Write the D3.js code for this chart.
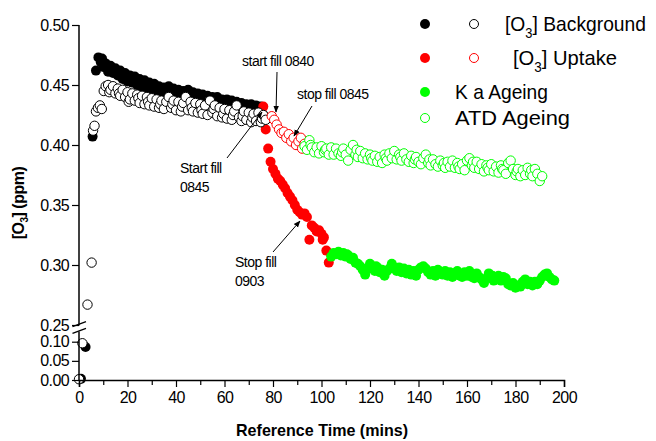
<!DOCTYPE html>
<html>
<head>
<meta charset="utf-8">
<script src="https://cdn.jsdelivr.net/npm/d3@7"></script>
<style>
  html, body { margin: 0; padding: 0; background: #fff; }
  svg { display: block; }
  text { font-family: "Liberation Sans", Arial, sans-serif; fill: #000; }
</style>
</head>
<body>
<svg id="chart" width="656" height="441"></svg>
<script>
// ---- data: [time (mins), [O3] (ppm)] ----
const backgroundFilled = [
  [0.8,0.003],[2.7,0.086],[5.6,0.407],[7,0.462],[8,0.473],[9,0.469],[9.5,0.472],[10,0.465],[11,0.468],
  [12,0.461],[13,0.466],[14,0.460],[14.5,0.463],[15,0.464],[16,0.458],[17,0.462],[18,0.455],[19,0.460],
  [19.5,0.457],[20,0.453],[21,0.458],[22,0.452],[23,0.457],[24,0.450],[25,0.455],[25.5,0.451],[26,0.448],
  [27,0.454],[28,0.447],[29,0.452],[30,0.445],[31,0.451],[31.5,0.448],[32,0.444],[33,0.449],[34,0.443],
  [35,0.448],[36,0.442],[37,0.449],[38,0.441],[38.5,0.444],[39,0.447],[40,0.440],[41,0.446],[42,0.439],
  [43,0.445],[44,0.438],[44.5,0.442],[45,0.446],[46,0.437],[47,0.444],[48,0.436],[49,0.443],[50,0.435],
  [51,0.442],[52,0.435],[52.5,0.438],[53,0.441],[54,0.434],[55,0.440],[56,0.433],[57,0.440],[58,0.432],
  [58.5,0.435],[59,0.438],[60,0.431],[61,0.438],[62,0.430],[63,0.437],[64,0.429],[64.5,0.433],[65,0.436],
  [66,0.428],[67,0.435],[68,0.428],[69,0.434],[70,0.427],[70.5,0.431],[71,0.434],[72,0.426],[73,0.433],
  [74,0.426],[75,0.432],[76,0.425]
];
const backgroundOpen = [
  [0,0.002],[1.4,0.096],[3.5,0.267],[5.2,0.302],[5.8,0.412],[6.4,0.416],[7,0.428],[7.8,0.431],
  [8.6,0.433],[9.4,0.430],[10.2,0.445],[11,0.449],[12,0.450],[12.5,0.444],[13,0.446],[14,0.449],
  [15,0.443],[16,0.447],[16.5,0.443],[17,0.441],[18,0.446],[19,0.440],[20,0.444],[20.5,0.436],
  [21,0.438],[22,0.443],[23,0.437],[24,0.442],[24.5,0.439],[25,0.435],[26,0.441],[27,0.434],
  [28,0.440],[28.5,0.436],[29,0.433],[30,0.439],[31,0.432],[32,0.438],[33,0.431],[33.5,0.434],
  [34,0.437],[35,0.430],[36,0.436],[37,0.440],[38,0.431],[38.5,0.434],[39,0.437],[40,0.429],
  [41,0.436],[42,0.428],[42.5,0.432],[43,0.435],[44,0.440],[45,0.429],[46,0.436],[46.5,0.431],
  [47,0.428],[48,0.435],[49,0.427],[50,0.434],[50.5,0.429],[51,0.426],[52,0.433],[53,0.425],
  [54,0.437],[55,0.427],[55.5,0.430],[56,0.433],[57,0.424],[58,0.431],[59,0.423],[59.5,0.426],
  [60,0.430],[61,0.422],[62,0.429],[63,0.421],[63.5,0.425],[64,0.428],[65,0.433],[66,0.423],
  [67,0.420],[67.5,0.424],[68,0.428],[69,0.421],[70,0.427],[71,0.419],[71.5,0.423],[72,0.426],
  [73,0.420],[74,0.427],[75,0.419],[75.5,0.422],[76,0.425],[77,0.421]
];
const uptakeFilled = [
  [76,0.432],[77,0.413],[78,0.397],[79,0.386],[80,0.380],[81,0.376],[82,0.372],[83,0.370],
  [84,0.367],[85,0.364],[86,0.360],[87,0.357],[88,0.354],[89,0.350],[90,0.346],[91,0.344],
  [92,0.342],[93,0.343],[94,0.340],[95,0.321],[96,0.333],[97,0.331],[98,0.328],[99,0.329],
  [100,0.326],[100.5,0.321],[101,0.323],[102,0.312],[103,0.302],[104,0.309]
];
const uptakeOpen = [
  [79.5,0.424],[80.5,0.421],[81.5,0.417],[82.5,0.413],[83.5,0.410],[84.5,0.411],[85.5,0.406],
  [86.5,0.409],[87.5,0.403],[88.5,0.406],[89.5,0.400],[90.5,0.403],[91.5,0.406],[92,0.397],[93,0.401]
];
const kaAgeing = [
  [104,0.307],[105,0.310],[106,0.309],[107,0.311],[108,0.308],[109,0.310],[110,0.307],[110.5,0.309],
  [111,0.308],[112,0.305],[113,0.306],[114,0.302],[115,0.301],[116,0.299],[117,0.296],[118,0.292],
  [119,0.297],[120,0.301],[121,0.297],[122,0.295],[122.5,0.299],[123,0.298],[124,0.294],[125,0.296],
  [126,0.291],[127,0.295],[128,0.297],[129,0.301],[130,0.298],[131,0.295],[132,0.298],[133,0.294],
  [134,0.297],[134.5,0.295],[135,0.293],[136,0.296],[137,0.292],[138,0.295],[139,0.291],[140,0.296],
  [141,0.298],[142,0.299],[143,0.297],[144,0.294],[145,0.292],[146,0.295],[146.5,0.293],[147,0.291],
  [148,0.296],[149,0.293],[150,0.292],[151,0.295],[152,0.291],[153,0.294],[154,0.290],[155,0.293],
  [156,0.295],[157,0.291],[158,0.290],[158.5,0.292],[159,0.294],[160,0.291],[161,0.295],[162,0.290],
  [163,0.289],[164,0.293],[165,0.290],[166,0.288],[167,0.285],[168,0.289],[169,0.293],[170,0.289],
  [170.5,0.291],[171,0.287],[172,0.290],[173,0.291],[174,0.287],[175,0.290],[176,0.289],[177,0.284],
  [178,0.283],[179,0.285],[180,0.281],[181,0.283],[182,0.282],[182.5,0.284],[183,0.286],[184,0.288],
  [185,0.284],[186,0.286],[187,0.283],[188,0.286],[189,0.284],[190,0.287],[191,0.290],[192,0.292],
  [193,0.293],[194,0.290],[195,0.288],[196,0.287]
];
const atdAgeing = [
  [93,0.399],[94,0.396],[95,0.404],[95.5,0.400],[96,0.398],[97,0.394],[98,0.398],[99,0.393],
  [100,0.399],[101,0.394],[101.5,0.396],[102,0.397],[103,0.392],[104,0.398],[105,0.392],[106,0.397],
  [107,0.393],[108,0.391],[108.5,0.394],[109,0.397],[110,0.392],[111,0.387],[112,0.396],[113,0.400],
  [114,0.392],[114.5,0.396],[115,0.390],[116,0.395],[117,0.389],[118,0.393],[119,0.388],[120,0.392],
  [120.5,0.389],[121,0.387],[122,0.391],[123,0.386],[124,0.390],[125,0.385],[126,0.392],[126.5,0.389],
  [127,0.387],[128,0.393],[129,0.389],[130,0.395],[131,0.388],[132,0.392],[132.5,0.390],[133,0.387],
  [134,0.393],[135,0.388],[136,0.386],[137,0.391],[138,0.385],[138.5,0.388],[139,0.390],[140,0.386],
  [141,0.384],[142,0.389],[143,0.392],[144,0.385],[144.5,0.388],[145,0.383],[146,0.388],[147,0.384],
  [148,0.382],[149,0.387],[150,0.383],[150.5,0.385],[151,0.381],[152,0.386],[153,0.382],[154,0.387],
  [155,0.381],[156,0.385],[156.5,0.382],[157,0.380],[158,0.384],[159,0.379],[160,0.387],[161,0.389],
  [162,0.383],[162.5,0.386],[163,0.381],[164,0.386],[165,0.380],[166,0.384],[167,0.378],[168,0.383],
  [168.5,0.381],[169,0.379],[170,0.384],[171,0.378],[172,0.382],[173,0.377],[174,0.383],[174.5,0.380],
  [175,0.379],[176,0.376],[177,0.385],[178,0.387],[179,0.380],[180,0.375],[180.5,0.378],[181,0.380],
  [182,0.374],[183,0.379],[184,0.375],[185,0.381],[186,0.376],[186.5,0.379],[187,0.374],[188,0.380],
  [189,0.376],[190,0.370],[191,0.374]
];

// axis ticks
const xMajorTicks = [0, 20, 40, 60, 80, 100, 120, 140, 160, 180, 200];
const xMinorTicks = [10, 30, 50, 70, 90, 110, 130, 150, 170, 190];
const yUpperTicks = [0.25, 0.30, 0.35, 0.40, 0.45, 0.50];
const yLowerTicks = [0.00, 0.05, 0.10];

// legend entries
const legendRows = [
  { filled: "#000000", open: "#000000", label: ["[O", "3", "] Background"], width: 141 },
  { filled: "#ff0000", open: "#ff0000", label: ["[O", "3", "] Uptake"], width: 104 },
  { filled: "#00ff00", open: null, label: ["K a Ageing"], width: 93 },
  { filled: null, open: "#00ff00", label: ["ATD Ageing"], width: 115 }
];

// annotations
const notes = [
  { lines: ["start fill 0840"], tx: 242, ty: 66, from: [277, 72], to: [276, 112] },
  { lines: ["stop fill 0845"], tx: 297, ty: 99, from: [312, 106], to: [294, 136] },
  { lines: ["Start fill", "0845"], tx: 180, ty: 173, from: [227, 158], to: [262, 112] },
  { lines: ["Stop fill", "0903"], tx: 235, ty: 267, from: [273, 252], to: [300, 221] }
];

const svg = d3.select("#chart");

const x = d3.scaleLinear().domain([0, 200]).range([79, 564]);
const yUp = d3.scaleLinear().domain([0.25, 0.50]).range([325, 25]);
const yLow = d3.scaleLinear().domain([0, 0.10]).range([380, 341.7]);
const y = v => (v >= 0.2 ? yUp(v) : yLow(v));

// arrowhead marker
svg.append("defs").append("marker")
  .attr("id", "arrow").attr("viewBox", "0 0 10 10")
  .attr("refX", 9).attr("refY", 5)
  .attr("markerWidth", 7).attr("markerHeight", 7)
  .attr("orient", "auto")
  .append("path").attr("d", "M0,1 L10,5 L0,9 Z").attr("fill", "#000");

// points
const R = 5;
function filled(data, color) {
  svg.append("g").selectAll("circle").data(data).join("circle")
    .attr("cx", d => x(d[0])).attr("cy", d => y(d[1])).attr("r", R)
    .attr("fill", color);
}
function open(data, color) {
  svg.append("g").selectAll("circle").data(data).join("circle")
    .attr("cx", d => x(d[0])).attr("cy", d => y(d[1])).attr("r", R - 0.3)
    .attr("fill", "#fff").attr("stroke", color).attr("stroke-width", 1);
}
filled(backgroundFilled, "#000000");
filled(uptakeFilled, "#ff0000");
filled(kaAgeing, "#00ff00");
open(backgroundOpen, "#000000");
open(uptakeOpen, "#ff0000");
open(atdAgeing, "#00ff00");

// axes
const fmt = d3.format(".2f");
const axisFont = g => g.selectAll("text")
  .style("font-family", "'Liberation Sans', Arial, sans-serif")
  .style("font-size", "16px").style("letter-spacing", "-0.6px").attr("fill", "#000");

const gyu = svg.append("g").attr("transform", "translate(79,0)")
  .call(d3.axisLeft(yUp).tickValues(yUpperTicks).tickFormat(fmt).tickSize(7).tickPadding(3));
const gyl = svg.append("g").attr("transform", "translate(79,0)")
  .call(d3.axisLeft(yLow).tickValues(yLowerTicks).tickFormat(fmt).tickSize(7).tickPadding(3));
[gyu, gyl].forEach(g => {
  g.select(".domain").remove();
  g.selectAll("line").attr("stroke", "#000").attr("stroke-width", 1.2);
  axisFont(g);
});
// y axis line with a break
svg.append("line").attr("x1", 79).attr("x2", 79).attr("y1", yUp(0.50)).attr("y2", 325.5)
  .attr("stroke", "#000").attr("stroke-width", 1.5);
svg.append("line").attr("x1", 79).attr("x2", 79).attr("y1", 331.5).attr("y2", yLow(0))
  .attr("stroke", "#000").attr("stroke-width", 1.5);
[[326.7, 321.7], [333.3, 328.3]].forEach(([a, b]) => {
  svg.append("line").attr("x1", 72.5).attr("y1", a).attr("x2", 86).attr("y2", b)
    .attr("stroke", "#000").attr("stroke-width", 1.3);
});

const gx = svg.append("g").attr("transform", `translate(0,${yLow(0)})`)
  .call(d3.axisBottom(x).tickValues(xMajorTicks).tickFormat(d3.format("d")).tickSize(7).tickPadding(5));
gx.select(".domain").attr("stroke", "#000").attr("stroke-width", 1.5);
gx.selectAll("line").attr("stroke", "#000").attr("stroke-width", 1.2);
axisFont(gx);
svg.append("g").attr("transform", `translate(0,${yLow(0)})`)
  .call(d3.axisBottom(x).tickValues(xMinorTicks).tickFormat("").tickSize(5))
  .call(g => g.select(".domain").remove())
  .selectAll("line").attr("stroke", "#000").attr("stroke-width", 1.2);

// axis titles
svg.append("text").attr("x", 322).attr("y", 436).attr("text-anchor", "middle")
  .attr("textLength", 172).attr("lengthAdjust", "spacingAndGlyphs")
  .style("font-size", "17px").style("font-weight", "bold")
  .text("Reference Time (mins)");
const yt = svg.append("text").attr("transform", "translate(24,203) rotate(-90)")
  .attr("text-anchor", "middle").style("font-size", "16px").style("font-weight", "bold")
  .style("letter-spacing", "-0.5px");
yt.append("tspan").text("[O");
yt.append("tspan").attr("dy", 4).style("font-size", "10px").text("3");
yt.append("tspan").attr("dy", -4).text("] (ppm)");

// annotations
notes.forEach(n => {
  const t = svg.append("text").style("font-size", "14px").style("letter-spacing", "-0.5px");
  n.lines.forEach((s, i) => t.append("tspan").attr("x", n.tx).attr("y", n.ty + i * 19).text(s));
  svg.append("line").attr("x1", n.from[0]).attr("y1", n.from[1]).attr("x2", n.to[0]).attr("y2", n.to[1])
    .attr("stroke", "#000").attr("stroke-width", 1).attr("marker-end", "url(#arrow)");
});

// legend
const legendY = [24, 58, 92, 118];
legendRows.forEach((row, i) => {
  const cy = legendY[i];
  if (row.filled) svg.append("circle").attr("cx", 425).attr("cy", cy).attr("r", 5).attr("fill", row.filled);
  const ox = row.filled ? 474 : 425;
  if (row.open) svg.append("circle").attr("cx", ox).attr("cy", cy).attr("r", 4.5)
    .attr("fill", "#fff").attr("stroke", row.open).attr("stroke-width", 1);
  const tx = row.label.length > 1 ? (i === 0 ? 505 : 513) : 455;
  const t = svg.append("text").attr("x", tx).attr("y", cy + 7)
    .attr("textLength", row.width).attr("lengthAdjust", "spacingAndGlyphs")
    .style("font-size", "21px");
  if (row.label.length > 1) {
    t.append("tspan").text(row.label[0]);
    t.append("tspan").attr("dy", 7).style("font-size", "14px").text(row.label[1]);
    t.append("tspan").attr("dy", -7).text(row.label[2]);
  } else {
    t.text(row.label[0]);
  }
});
</script>
</body>
</html>
